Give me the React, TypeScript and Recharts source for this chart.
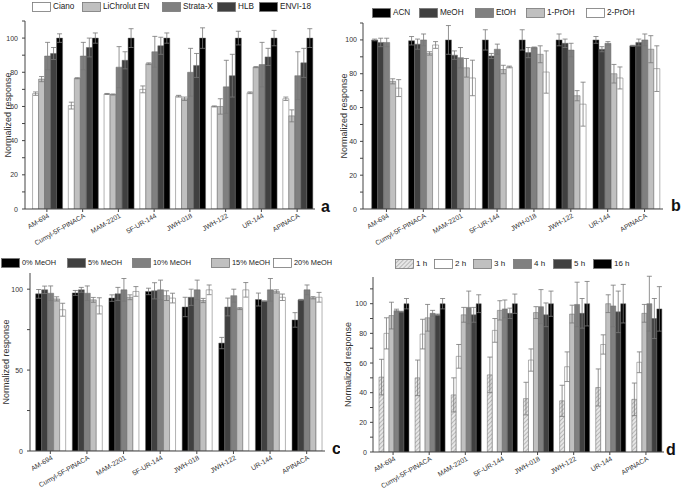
import React from 'react';
import { BarChart, Bar, XAxis, YAxis, ErrorBar } from 'recharts';

const categories = ['AM-694', 'Cumyl-5F-PINACA', 'MAM-2201', '5F-UR-144', 'JWH-018', 'JWH-122', 'UR-144', 'APINACA'];

// Panel a – SPE sorbents
const seriesA = ['Ciano', 'LiChrolut EN', 'Strata-X', 'HLB', 'ENVI-18'];
const aCiano = [67.5, 60.5, 67.3, 70, 66, 60, 68, 64.5];
const aLichrolut = [76, 76.5, 67, 85, 64.5, 60, 83, 54.5];
const aStrata = [89.5, 89.5, 83, 92, 80, 71.5, 84.5, 78];
const aHLB = [91, 94.5, 87, 95.5, 84, 78, 89, 85.5];
const aEnvi = [100, 100, 100, 100, 100, 100, 100, 100];
const aCianoErr = [1, 2, 0.3, 2, 0.5, 0.3, 0.5, 1];
const aLichrolutErr = [1.5, 0.3, 0.3, 0.5, 1, 4.5, 0.3, 3.5];
const aStrataErr = [8, 8, 12, 9, 14, 15.5, 13, 14];
const aHLBErr = [3.5, 5.5, 5, 5, 7, 12.5, 5, 8.5];
const aEnviErr = [2.5, 3, 5.5, 3, 6, 4, 4.5, 5.5];

// Panel b – elution solvents
const seriesB = ['ACN', 'MeOH', 'EtOH', '1-PrOH', '2-PrOH'];
const bACN = [100, 99.5, 100, 100, 100, 100, 100, 96.5];
const bMeOH = [98.5, 97.5, 91, 90.5, 92.5, 98, 94.5, 98.5];
const bEtOH = [98.5, 100, 89.5, 94.5, 95.5, 94, 98, 100];
const bProp1 = [75.5, 92, 83.5, 82.5, 91.5, 67, 80, 94.5];
const bProp2 = [71.5, 97, 77.5, 84, 81, 62, 77.5, 83];
const bACNErr = [0.5, 2.5, 8.5, 6, 6, 3.5, 2, 0.3];
const bMeOHErr = [2.5, 3, 2.5, 1.5, 3, 2.5, 1.5, 2];
const bEtOHErr = [2.5, 3.5, 6, 3, 0.3, 4, 1, 3.5];
const bProp1Err = [1.5, 1, 5.5, 2.5, 5, 3, 5.5, 8];
const bProp2Err = [5, 2, 10.5, 0.5, 12.5, 13, 6.5, 13.5];

// Panel c – methanol in washing step
const seriesC = ['0% MeOH', '5% MeOH', '10% MeOH', '15% MeOH', '20% MeOH'];
const c0 = [97.1, 97.7, 94.5, 98.6, 89, 66.7, 93.6, 81];
const c5 = [99.6, 99.6, 97.1, 99, 95, 89, 92.6, 93.4];
const c10 = [97.5, 97.5, 99.6, 99.6, 99.6, 96, 99.6, 99.6];
const c15 = [94, 93.4, 95, 96, 93, 88, 98.6, 94.7];
const c20 = [87.3, 89.7, 98.6, 94.5, 99.6, 99.6, 95, 95];
const c0Err = [2.7, 1.5, 2, 2, 6, 3.5, 4, 4.5];
const c5Err = [2.3, 1.5, 4, 5, 5, 5.5, 0.2, 0.3];
const c10Err = [4.5, 4.5, 7, 6, 6, 4, 7, 3];
const c15Err = [1.3, 1.5, 1.5, 3, 1.3, 0.6, 1, 0.7];
const c20Err = [4, 5, 3, 3, 3, 4.5, 2, 3];

// Panel d – extraction time
const seriesD = ['1 h', '2 h', '3 h', '4 h', '5 h', '16 h'];
const d1 = [50.5, 50, 38.5, 52, 36, 34.5, 43.5, 35.5];
const d2 = [80, 79.5, 64.5, 82, 62, 57.5, 72.5, 60.5];
const d3 = [92, 90.5, 92.5, 95.5, 94, 93, 100, 93.5];
const d4 = [95.3, 93.5, 97.5, 96.5, 98, 99.5, 98.5, 100];
const d5 = [94.6, 92.5, 92.5, 93.5, 92.5, 93.5, 94.5, 90];
const d16 = [100, 100, 100, 100, 100, 100, 100, 96.5];
const d1Err = [12, 12, 11.5, 12, 11, 10.5, 12.5, 11];
const d2Err = [10.5, 10, 8, 8, 7.5, 10, 6.5, 7];
const d3Err = [9, 9, 5, 6.5, 4, 6, 6, 6];
const d4Err = [1, 2, 11, 6, 11.5, 15, 14, 18.5];
const d5Err = [0.3, 0.5, 5, 3.5, 8, 10, 14, 13.5];
const d16Err = [3.5, 3.5, 6, 6.5, 8.5, 15, 13, 15];

function makeData(vals: number[][], errs: number[][]) {
  return categories.map((name, i) => {
    const row: Record<string, any> = { name };
    vals.forEach((s, k) => {
      row['v' + k] = s[i];
      row['e' + k] = errs[k][i];
    });
    return row;
  });
}

const dataA = makeData([aCiano, aLichrolut, aStrata, aHLB, aEnvi], [aCianoErr, aLichrolutErr, aStrataErr, aHLBErr, aEnviErr]);
const dataB = makeData([bACN, bMeOH, bEtOH, bProp1, bProp2], [bACNErr, bMeOHErr, bEtOHErr, bProp1Err, bProp2Err]);
const dataC = makeData([c0, c5, c10, c15, c20], [c0Err, c5Err, c10Err, c15Err, c20Err]);
const dataD = makeData([d1, d2, d3, d4, d5, d16], [d1Err, d2Err, d3Err, d4Err, d5Err, d16Err]);

const FONT = '"Liberation Sans", Arial, Helvetica, sans-serif';

const XTick = (props: any) => {
  const { x, y, payload } = props;
  return (
    <g transform={`translate(${x + 3},${y + 4}) rotate(-30)`}>
      <text x={0} y={0} textAnchor="end" fontSize={6.8} fill="#333" fontFamily={FONT}>
        {payload.value}
      </text>
    </g>
  );
};

const makeYTick = (shown: number[]) => (props: any) => {
  const { x, y, payload } = props;
  if (!shown.includes(payload.value)) return <g />;
  return (
    <text x={x} y={y} dy={2.5} textAnchor="end" fontSize={7} fill="#333" fontFamily={FONT}>
      {payload.value}
    </text>
  );
};

type PanelProps = {
  left: number;
  top: number;
  width: number;
  height: number;
  data: any[];
  names: string[];
  colors: string[];
  margin: { top: number; right: number; left: number; bottom: number };
  yWidth: number;
  xHeight: number;
  padLeft: number;
  domain: [number, number];
  ticks: number[];
  labels: number[];
  labelOffset: number;
  tickMargin: number;
  gap: string;
};

const Panel = (p: PanelProps) => (
  <div style={{ position: 'absolute', left: p.left, top: p.top }}>
    <BarChart
      width={p.width}
      height={p.height}
      data={p.data}
      margin={p.margin}
      barCategoryGap={p.gap}
      barGap={0}
    >
      <XAxis
        dataKey="name"
        interval={0}
        height={p.xHeight}
        tick={<XTick />}
        tickSize={3}
        tickMargin={1}
        stroke="#444"
        padding={{ left: p.padLeft, right: 0 }}
      />
      <YAxis
        width={p.yWidth}
        domain={p.domain}
        ticks={p.ticks}
        interval={0}
        allowDataOverflow
        tick={makeYTick(p.labels)}
        tickSize={3}
        tickMargin={p.tickMargin}
        stroke="#444"
        label={{
          value: 'Normalized response',
          angle: -90,
          position: 'insideLeft',
          offset: p.labelOffset,
          style: { textAnchor: 'middle', fontSize: 9, fill: '#333', fontFamily: FONT },
        }}
      />
      {p.names.map((n, k) => (
        <Bar key={n} dataKey={'v' + k} name={n} fill={p.colors[k]} stroke="#666" strokeWidth={0.5} isAnimationActive={false}>
          <ErrorBar dataKey={'e' + k} width={2.5} stroke="#777" strokeWidth={0.8} direction="y" />
        </Bar>
      ))}
    </BarChart>
  </div>
);

const LegendRow = ({ left, top, names, colors, xs, fs }: { left: number; top: number; names: string[]; colors: string[]; xs: number[]; fs: number }) => (
  <div style={{ position: 'absolute', left, top, height: 10 }}>
    {names.map((n, k) => (
      <div key={n} style={{ position: 'absolute', left: xs[k], top: 0, display: 'flex', alignItems: 'center', whiteSpace: 'nowrap' }}>
        <svg width={19} height={10} style={{ display: 'block' }}>
          <rect x={0.5} y={0.5} width={18} height={9} fill={colors[k]} stroke="#777" strokeWidth={0.8} />
        </svg>
        <span style={{ fontSize: fs, color: '#222', marginLeft: 2, fontFamily: FONT, lineHeight: '10px' }}>{n}</span>
      </div>
    ))}
  </div>
);

const colorsA = ['#ffffff', '#c0c0c0', '#808080', '#404040', '#000000'];
const colorsB = ['#000000', '#404040', '#808080', '#c0c0c0', '#ffffff'];
const colorsD = ['url(#hatch1h)', '#ffffff', '#c0c0c0', '#808080', '#404040', '#000000'];

const ticks110 = [0, 10, 20, 30, 40, 50, 60, 70, 80, 90, 100, 110];
const labels20 = [0, 20, 40, 60, 80, 100];

const Letter = ({ x, y, ch, clipW }: { x: number; y: number; ch: string; clipW?: number }) => (
  <div style={{ position: 'absolute', left: x, top: y, width: clipW ?? 20, overflow: 'hidden', fontSize: 16, fontWeight: 'bold', fontFamily: FONT, color: '#111', lineHeight: '16px' }}>
    {ch}
  </div>
);

export default function App() {
  return (
    <div style={{ position: 'absolute', left: 0, top: 0, width: 685, height: 491, background: '#fff', overflow: 'hidden', fontFamily: FONT }}>
      <svg width={0} height={0} style={{ position: 'absolute' }}>
        <defs>
          <pattern id="hatch1h" patternUnits="userSpaceOnUse" width={3} height={3} patternTransform="rotate(45)">
            <rect width={3} height={3} fill="#e6e6e6" />
            <line x1={0} y1={0} x2={0} y2={3} stroke="#9a9a9a" strokeWidth={1.2} />
          </pattern>
        </defs>
      </svg>

      <Panel left={0} top={0} width={340} height={245} data={dataA} names={seriesA} colors={colorsA}
        margin={{ top: 21, right: 25, left: 0, bottom: 0 }} yWidth={25} xHeight={36} padLeft={4}
        domain={[0, 110]} ticks={ticks110} labels={labels20} labelOffset={8} tickMargin={4} gap="10%" />
      <Panel left={340} top={0} width={345} height={245} data={dataB} names={seriesB} colors={colorsB}
        margin={{ top: 23, right: 22, left: 0, bottom: 0 }} yWidth={23} xHeight={36} padLeft={5}
        domain={[0, 110]} ticks={ticks110} labels={labels20} labelOffset={4} tickMargin={3} gap="10%" />
      <Panel left={0} top={250} width={340} height={240} data={dataC} names={seriesC} colors={colorsB}
        margin={{ top: 23, right: 15, left: 0, bottom: 0 }} yWidth={30} xHeight={39} padLeft={2}
        domain={[0, 110]} ticks={[0, 25, 50, 75, 100]} labels={[0, 50, 100]} labelOffset={6} tickMargin={4} gap="10%" />
      <Panel left={340} top={250} width={345} height={240} data={dataD} names={seriesD} colors={colorsD}
        margin={{ top: 27, right: 21, left: 0, bottom: 0 }} yWidth={33} xHeight={38} padLeft={2}
        domain={[0, 118]} ticks={ticks110} labels={labels20} labelOffset={8} tickMargin={3} gap="11%" />

      <LegendRow left={0} top={2} names={seriesA} colors={colorsA} xs={[32, 82, 162, 217, 259]} fs={8.2} />
      <LegendRow left={340} top={8} names={seriesB} colors={colorsB} xs={[32, 79, 135, 186, 246]} fs={8.2} />
      <LegendRow left={0} top={258} names={seriesC} colors={colorsB} xs={[1, 67, 132, 211, 273]} fs={7.4} />
      <LegendRow left={340} top={259} names={seriesD} colors={colorsD} xs={[55, 94, 133, 173, 213, 253]} fs={8} />

      <Letter x={321} y={199} ch="a" />
      <Letter x={671} y={198} ch="b" />
      <Letter x={332} y={441} ch="c" clipW={8} />
      <Letter x={666} y={442} ch="d" />
    </div>
  );
}
